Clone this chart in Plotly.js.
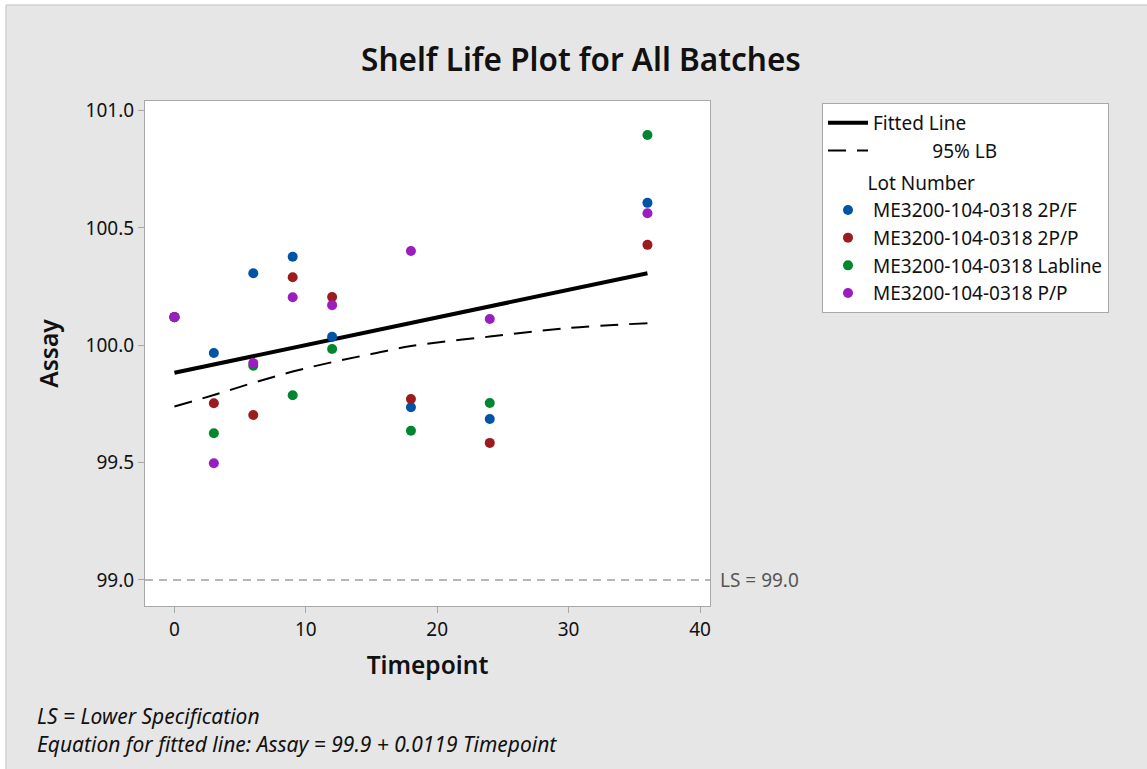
<!DOCTYPE html>
<html>
<head>
<meta charset="utf-8">
<script src="https://cdn.plot.ly/plotly-3.0.1.min.js"></script>
<style>html,body{margin:0;padding:0;background:#fff;}#chart{width:1147px;height:769px;}</style>
</head>
<body>
<div id="chart"></div>
<script>
// ---- data ----
const timepoints = [0, 3, 6, 9, 12, 18, 24, 36];
const lotNames = ["ME3200-104-0318 2P/F", "ME3200-104-0318 2P/P", "ME3200-104-0318 Labline", "ME3200-104-0318 P/P"];
const assay2PF     = [100.12, 99.967, 100.307, 100.377, 100.036, 99.736, 99.686, 100.607];
const assay2PP     = [100.12, 99.753, 99.703, 100.290, 100.206, 99.771, 99.584, 100.428];
const assayLabline = [100.12, 99.625, 99.913, 99.787, 99.984, 99.636, 99.754, 100.896];
const assayPP      = [100.121, 99.497, 99.924, 100.205, 100.171, 100.402, 100.112, 100.563];
const fitTime = [0, 36];
const fitAssay = [99.883, 100.307];
const lbTime = [0, 3, 6, 9, 12, 15, 18, 24, 30, 36];
const lbAssay = [99.739, 99.788, 99.840, 99.888, 99.928, 99.963, 99.997, 100.037, 100.074, 100.094];
const lowerSpec = 99.0;
const xTicks = [0, 10, 20, 30, 40];
const yTicks = [99.0, 99.5, 100.0, 100.5, 101.0];
const lotColors = ["#0054a6", "#9b1b1f", "#00862f", "#9a1dbf"];

const FONT = "Noto Sans, Open Sans, sans-serif";
const lotSeries = [assay2PF, assay2PP, assayLabline, assayPP];

const traces = [
  {x: fitTime, y: fitAssay, mode: "lines", name: "Fitted Line", legendgroup: "fit",
   line: {color: "#000", width: 4}},
  {x: lbTime, y: lbAssay, mode: "lines", name: "&nbsp;&nbsp;&nbsp;&nbsp;&nbsp;&nbsp;&nbsp;&nbsp;&nbsp;&nbsp;&nbsp;&nbsp;95% LB", legendgroup: "fit",
   line: {color: "#000", width: 2, dash: "18px,11px", shape: "spline"}}
];
lotSeries.forEach((vals, i) => {
  const t = {x: timepoints, y: vals, mode: "markers", name: lotNames[i], legendgroup: "lots",
    marker: {color: lotColors[i], size: 10}};
  if (i === 0) t.legendgrouptitle = {text: "&nbsp;&nbsp;&nbsp;&nbsp;&nbsp;&nbsp;&nbsp;&nbsp;Lot Number", font: {family: FONT, size: 19, color: "#111"}};
  traces.push(t);
});

const L = 145, R = 710, T = 101, B = 606, W = 1147, H = 769;
const pw = R - L, ph = B - T;
const px = v => (v - L) / pw;           // pixel -> paper x
const py = v => (B - v) / ph;           // pixel -> paper y

const layout = {
  width: W, height: H,
  margin: {l: L, r: W - R, t: T, b: H - B, pad: 0},
  paper_bgcolor: "#e6e6e6",
  plot_bgcolor: "#ffffff",
  font: {family: FONT, color: "#111", size: 18},
  title: {text: "Shelf Life Plot for All Batches", x: 581 / W, xref: "container", xanchor: "center",
          y: 1 - 60 / H, yref: "container", yanchor: "middle",
          font: {family: FONT, size: 31.5, weight: 600, color: "#111"}},
  showlegend: true,
  legend: {x: px(822), y: py(103), xanchor: "left", yanchor: "top",
           bgcolor: "#ffffff", bordercolor: "#a8a8a8", borderwidth: 1,
           font: {family: FONT, size: 19, color: "#111"}, tracegroupgap: 4,
           itemwidth: 40},
  xaxis: {range: [-2.24, 40.76], tickvals: xTicks, ticktext: xTicks.map(String),
          showgrid: false, zeroline: false, showline: true, mirror: true,
          linecolor: "#a8a8a8", linewidth: 1, ticks: "outside", ticklen: 6, tickcolor: "#a8a8a8",
          tickfont: {family: FONT, size: 19, color: "#111"},
          title: {text: "Timepoint", standoff: 16, font: {family: FONT, size: 24.5, weight: 600, color: "#111"}}},
  yaxis: {range: [98.889, 101.041], tickvals: yTicks, ticktext: yTicks.map(v => v.toFixed(1)),
          showgrid: false, zeroline: false, showline: true, mirror: true,
          linecolor: "#a8a8a8", linewidth: 1, ticks: "outside", ticklen: 6, tickcolor: "#a8a8a8",
          tickfont: {family: FONT, size: 19, color: "#111"},
          title: {text: "Assay", standoff: 20, font: {family: FONT, size: 24.5, weight: 600, color: "#111"}}},
  shapes: [
    {type: "line", xref: "paper", yref: "y", x0: 0, x1: 1, y0: lowerSpec, y1: lowerSpec,
     line: {color: "#a0a0a0", width: 1.5, dash: "8px,6px"}},
    // white strips outside the graph frame (top and left) and the frame edge
    {type: "rect", xref: "paper", yref: "paper", x0: px(-5), x1: px(6), y0: py(800), y1: py(-5),
     line: {width: 0}, fillcolor: "#ffffff", layer: "below"},
    {type: "rect", xref: "paper", yref: "paper", x0: px(-5), x1: px(1160), y0: py(5), y1: py(-5),
     line: {width: 0}, fillcolor: "#ffffff", layer: "below"},
    {type: "line", xref: "paper", yref: "paper", x0: px(6), x1: px(6), y0: py(5), y1: py(800),
     line: {color: "#d2d2d2", width: 1.5}},
    {type: "line", xref: "paper", yref: "paper", x0: px(6), x1: px(1160), y0: py(5), y1: py(5),
     line: {color: "#d2d2d2", width: 1.5}}
  ],
  annotations: [
    {text: "LS = 99.0", xref: "paper", yref: "y", x: 1, y: lowerSpec, xanchor: "left", yanchor: "middle",
     xshift: 8, showarrow: false, font: {family: FONT, size: 19, color: "#555"}},
    {text: "<i>LS = Lower Specification</i>", xref: "paper", yref: "paper", x: px(35), y: py(716),
     xanchor: "left", yanchor: "middle", showarrow: false, font: {family: FONT, size: 21, color: "#111"}},
    {text: "<i>Equation for fitted line: Assay = 99.9 + 0.0119 Timepoint</i>", xref: "paper", yref: "paper",
     x: px(35), y: py(744), xanchor: "left", yanchor: "middle", showarrow: false,
     font: {family: FONT, size: 21, color: "#111"}}
  ]
};

Plotly.newPlot("chart", traces, layout, {staticPlot: true, displayModeBar: false});
</script>
</body>
</html>
